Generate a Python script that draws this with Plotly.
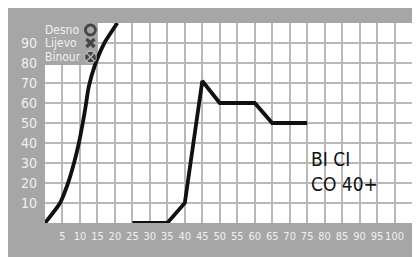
import plotly.graph_objects as go

# Rising curve (left)
curve1_x = [0, 4.3, 6.6, 8.3, 9.7, 10.8, 11.6, 12.5, 14.3, 17, 20.7]
curve1_y = [0, 10, 20, 30, 40, 50, 58, 68, 79, 90, 100]

# Second curve
curve2_x = [25, 35, 40, 45, 50, 60, 65, 75]
curve2_y = [0, 0, 10, 71, 60, 60, 50, 50]

x_ticks = list(range(5, 101, 5))
y_ticks = list(range(10, 91, 10))

legend_labels = ["Desno", "Lijevo", "Binour"]
legend_y = [96.5, 90, 83]

note_text = "BI CI<br>CO 40+"

GRAY = "#a6a6a6"
LABEL = "#f0f0f0"
GRID = "#b8b8b8"
NARROW = "DejaVu Sans Condensed, Liberation Sans Narrow, sans-serif"

PLOT_W = 367.5

fig = go.Figure()
fig.add_trace(go.Scatter(x=curve1_x, y=curve1_y, mode="lines",
                         line=dict(color="#111111", width=3.8, shape="spline", smoothing=0.6),
                         showlegend=False))
fig.add_trace(go.Scatter(x=curve2_x, y=curve2_y, mode="lines",
                         line=dict(color="#111111", width=3.8),
                         showlegend=False))

# legend symbols
fig.add_trace(go.Scatter(x=[13.0, 13.0, 13.0], y=legend_y, mode="markers",
                         marker=dict(symbol=["circle-open", "x-thin-open", "circle-x"],
                                     size=[10, 8, 12],
                                     color="#1e1e1e",
                                     line=dict(color=["#1e1e1e", "#1e1e1e", "#c0c0c0"], width=[2.8, 3.2, 1.3])),
                         showlegend=False, cliponaxis=False))

shapes = [
    # gray legend box over the grid
    dict(type="rect", xref="x", yref="y", x0=0, x1=15, y0=79, y1=100,
         fillcolor=GRAY, line=dict(width=0), layer="between"),
]

annotations = []
for lab, yv in zip(legend_labels, legend_y):
    annotations.append(dict(x=-2 / PLOT_W, y=yv / 100, xref="paper", yref="paper", text=lab,
                            showarrow=False, xanchor="left", yanchor="middle",
                            font=dict(family=NARROW, size=12, color=LABEL)))
annotations.append(dict(x=75.5, y=26, xref="x", yref="y", text=note_text, showarrow=False,
                        xanchor="left", yanchor="middle", align="left",
                        font=dict(family=NARROW, size=19, color="#111111")))

fig.update_layout(
    width=420, height=257,
    margin=dict(l=37, r=15.5, t=15, b=42, pad=0),
    paper_bgcolor=GRAY, plot_bgcolor="white",
    shapes=shapes, annotations=annotations,
    xaxis=dict(range=[0, 105], tickmode="array", tickvals=x_ticks,
               ticktext=[str(v) for v in x_ticks], tickangle=0,
               showgrid=True, gridcolor=GRID, gridwidth=1.5,
               zeroline=False, showline=False, ticks="", automargin=False,
               ticklabelstandoff=5,
               tickfont=dict(family=NARROW, size=11, color=LABEL)),
    yaxis=dict(range=[0, 100], tickmode="array", tickvals=y_ticks,
               ticktext=[str(v) for v in y_ticks],
               showgrid=True, gridcolor=GRID, gridwidth=1.5,
               zeroline=False, showline=False, ticks="", automargin=False,
               ticklabelstandoff=7,
               tickfont=dict(family=NARROW, size=14, color=LABEL)),
)
fig.update_xaxes(minor=dict(tickvals=[0, 105], showgrid=True, gridcolor=GRID, gridwidth=1.5))
fig.update_yaxes(minor=dict(tickvals=[0, 100], showgrid=True, gridcolor=GRID, gridwidth=1.5))

fig.write_html("out.html")
